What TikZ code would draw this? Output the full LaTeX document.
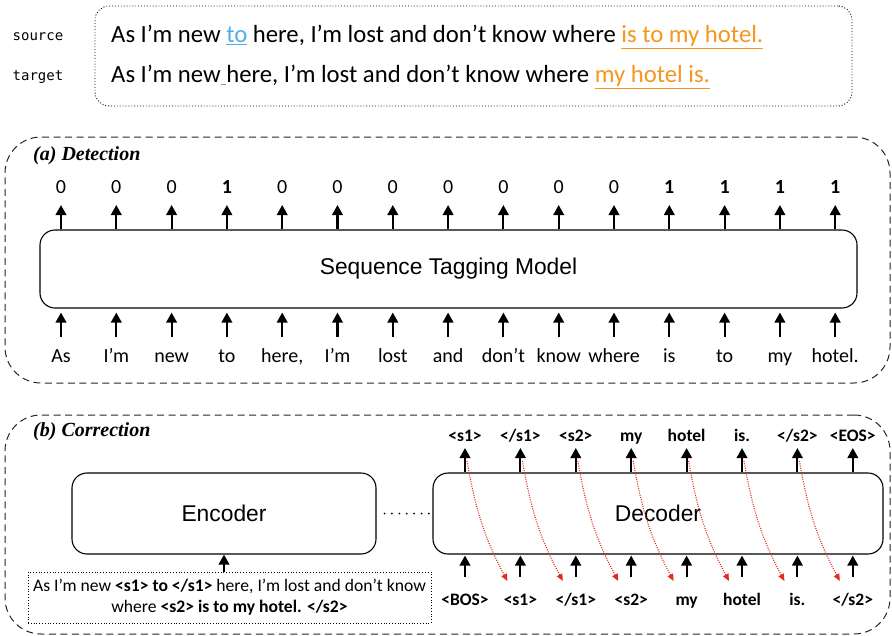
\documentclass[tikz,border=0pt]{standalone}
\usepackage{fontspec}
\setmainfont{Carlito}
\newfontfamily\arialf{Liberation Sans}
\newfontfamily\timesf{Liberation Serif}
\newfontfamily\monof{DejaVu Sans Mono}
\usetikzlibrary{arrows.meta}
\definecolor{hlblue}{RGB}{80,176,232}
\definecolor{hlorange}{RGB}{246,150,28}
\definecolor{arrred}{RGB}{226,45,30}
\newcommand\myul[1]{\leavevmode\vtop{\hbox{#1}\kern1.6pt\hrule height 1.2pt}}
\begin{document}
\begin{tikzpicture}[x=1pt,y=-1pt,
  arr/.style={line width=2.1pt,-{Triangle[length=10pt,width=10.5pt]}},
  redarr/.style={arrred,line width=1.1pt,dash pattern=on 1pt off 1.3pt,-{Triangle[length=7pt,width=6pt]}},
  panel/.style={draw=black!85,line width=1pt,dash pattern=on 7pt off 4.5pt,rounded corners=36pt,inner sep=0pt},
  model/.style={draw,line width=1.1pt,rounded corners=15pt,inner sep=0pt,font=\arialf\fontsize{22.8}{26}\selectfont},
  lbl/.style={anchor=base,inner sep=0pt,font=\fontsize{20}{23}\selectfont},
  tok/.style={anchor=base,inner sep=0pt,font=\bfseries\fontsize{17.5}{20}\selectfont},
  side/.style={anchor=base,inner sep=0pt,font=\monof\fontsize{14}{16}\selectfont},
  sent/.style={anchor=base west,inner sep=0pt,font=\fontsize{24.7}{28}\selectfont},
  title/.style={anchor=base west,inner sep=0pt,font=\timesf\bfseries\itshape\fontsize{20}{24}\selectfont}]
\useasboundingbox (0,0) rectangle (892,635);

% ---------- top example ----------
\node[draw,dotted,line width=0.9pt,rounded corners=14pt,minimum width=757pt,minimum height=100pt,inner sep=0pt] (exbox) at (473.5,56) {};
\node[side] (srclab) at (38,40) {source};
\node[side] (tgtlab) at (38,80) {target};
\node[sent] (srcsent) at (111,42) {As I’m new \textcolor{hlblue}{\myul{to}} here, I’m lost and don’t know where \textcolor{hlorange}{\myul{is to my hotel.}}};
\node[sent] (tgtsent) at (111,82) {As I’m new\textcolor{hlblue}{\myul{\ }}here, I’m lost and don’t know where \textcolor{hlorange}{\myul{my hotel is.}}};

% ---------- (a) detection ----------
\node[panel,minimum width=885pt,minimum height=246pt] (detbox) at (447.5,260) {};
\node[title] (dettitle) at (33,160) {(a) Detection};
\node[model,minimum width=817pt,minimum height=78pt] (stm) at (448.5,269) {Sequence Tagging Model};
\foreach \t [count=\i from 0] in {0,0,0,{\bfseries 1},0,0,0,0,0,0,0,{\bfseries 1},{\bfseries 1},{\bfseries 1},{\bfseries 1}} {
  \node[lbl] (n\i) at ({61+55.3*\i},193) {\t};
  \draw[arr] (stm.north -| n\i) -- ([yshift=-12pt]n\i.base);
}
\foreach \w [count=\i from 0] in {As,I’m,new,to,{here,},I’m,lost,and,don’t,know,where,is,to,my,hotel.} {
  \node[lbl] (w\i) at ({61+55.3*\i},362) {\w};
  \draw[arr] ([yshift=25pt]w\i.base) -- ([yshift=-4pt]stm.south -| w\i);
}

% ---------- (b) correction ----------
\node[panel,minimum width=885pt,minimum height=219pt] (corbox) at (447.5,524.5) {};
\node[title] (cortitle) at (33,436) {(b) Correction};
\node[model,minimum width=304pt,minimum height=81pt] (enc) at (224,513.5) {Encoder};
\node[model,minimum width=450pt,minimum height=81pt] (dec) at (658,513.5) {Decoder};
\draw[line width=2pt,dash pattern=on 0pt off 7.4pt,line cap=round] ([xshift=8pt]enc.east) -- ([xshift=-2pt]dec.west);
\node[draw,dotted,line width=0.8pt,minimum width=403pt,minimum height=51pt,inner sep=0pt,align=center,
      font=\fontsize{17.6}{21}\selectfont] (srcin) at (229.5,597.5)
  {As I’m new \textbf{<s1> to </s1>} here, I’m lost and don’t know\\where \textbf{<s2> is to my hotel. </s2>}};
\draw[arr] (srcin.north -| enc.south) -- (enc.south);

\foreach \t [count=\j from 0] in {<s1>,</s1>,<s2>,my,hotel,is.,</s2>,<EOS>} {
  \node[tok] (o\j) at ({465+55.4*\j},441) {\t};
  \draw[arr] (dec.north -| o\j) -- ([yshift=-7pt]o\j.base);
}
\foreach \t [count=\j from 0] in {<BOS>,<s1>,</s1>,<s2>,my,hotel,is.,</s2>} {
  \node[tok] (i\j) at ({465+55.4*\j},605) {\t};
  \draw[arr] ([yshift=28pt]i\j.base) -- ([yshift=-1pt]dec.south -| i\j);
}
\foreach \j [evaluate=\j as \k using int(\j+1)] in {0,...,6} {
  \draw[redarr] ([xshift=2pt,yshift=-20pt]o\j.base) to[out=-80,in=118] ([xshift=-13pt,yshift=24pt]i\k.base);
}
\end{tikzpicture}
\end{document}
